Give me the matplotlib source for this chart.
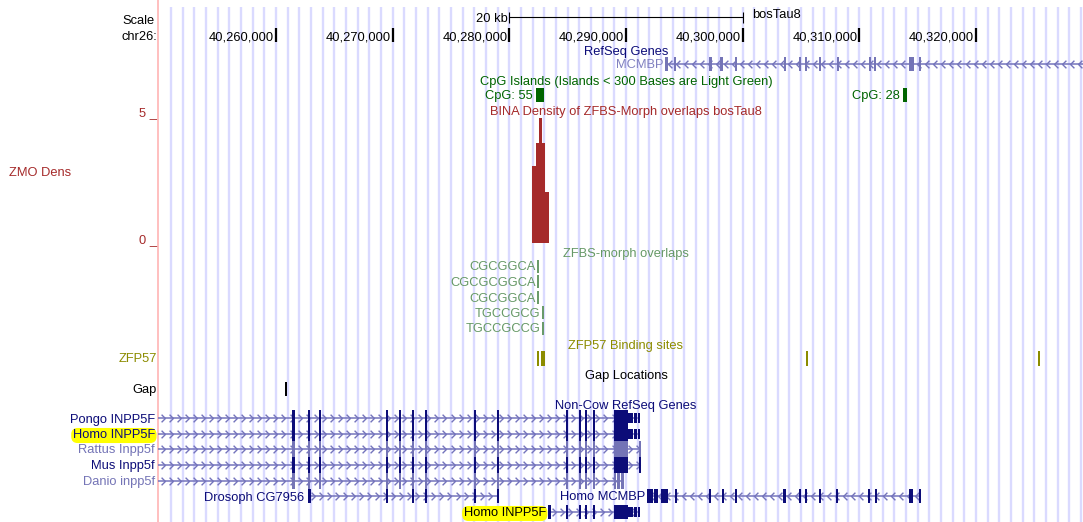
import matplotlib
matplotlib.use('Agg')
import matplotlib.pyplot as plt
from matplotlib.path import Path
import numpy as np

plt.rcParams['font.family'] = ['Liberation Sans', 'DejaVu Sans']

W, H = 1083, 522
# browser window: pixel 276 sits on 40,260,000, about 11.67 px per kb
BP_PER_PX = 85.714
ORIGIN = 40260000 - 276 * BP_PER_PX


def px(p):
    # pixel column -> genome coordinate (layout only)
    return ORIGIN + p * BP_PER_PX


VIEW_START = 40249890
VIEW_END = 40329170

# ---- data ----
position_ticks = [40260000, 40270000, 40280000, 40290000, 40300000, 40310000, 40320000]
scale_bar = [40280000, 40300000]

cpg_starts = [40282290, 40313740]
cpg_ends = [40282970, 40314090]
cpg_labels = ['CpG: 55', 'CpG: 28']

density_starts = [40281950, 40282250, 40282500, 40282800, 40283050]
density_ends = [40282250, 40282500, 40282800, 40283050, 40283400]
density_values = [2.95, 3.85, 4.8, 3.85, 1.95]

zfbs_labels = ['CGCGGCA', 'CGCGCGGCA', 'CGCGGCA', 'TGCCGCG', 'TGCCGCCG']
zfbs_pos = [40282460, 40282460, 40282460, 40282890, 40282890]

zfp57_starts = [40282400, 40282715, 40305470, 40325330]
zfp57_ends = [40282520, 40283030, 40305620, 40325480]

gap_starts = [40260810]
gap_ends = [40260900]

cow_mcmbp_exons = [(40293344, 40293601), (40294160, 40294260), (40297200, 40297330),
                   (40298150, 40298270), (40299380, 40299500), (40303570, 40303700),
                   (40304860, 40304980), (40305380, 40305500), (40306580, 40306700),
                   (40308090, 40308220), (40310860, 40310980), (40311300, 40311400),
                   (40314230, 40314690), (40315160, 40315240)]

inpp5f_exons = [(40261380, 40261580), (40262740, 40262940), (40263720, 40263820),
                (40269440, 40269620), (40270560, 40270720), (40271680, 40271820),
                (40272790, 40272950), (40277000, 40277130), (40278960, 40279120),
                (40284880, 40285010), (40285990, 40286130), (40286510, 40286640),
                (40287190, 40287330), (40288970, 40290170)]
inpp5f_utr = [(40290170, 40290560), (40290650, 40290900), (40290990, 40291200)]
rodent_end = [(40291140, 40291230)]
danio_tail = [(40289000, 40289120), (40289270, 40289400), (40289620, 40289780)]
drosoph_exons = [(40262740, 40262960), (40269440, 40269620), (40271680, 40271820),
                 (40272790, 40272950), (40277000, 40277130), (40278960, 40279120)]
homo_inpp5f2_exons = [(40283390, 40283480), (40284880, 40285010), (40285990, 40286130),
                      (40286510, 40286640), (40287190, 40287330), (40288970, 40290170)]
homo_mcmbp_exons = [(40291800, 40292320), (40292400, 40292750), (40293000, 40293600),
                    (40294250, 40294340), (40297150, 40297280), (40298260, 40298390),
                    (40299380, 40299500), (40303500, 40303630), (40304860, 40304980),
                    (40305380, 40305500), (40306580, 40306700), (40308030, 40308160),
                    (40310780, 40310900), (40311380, 40311480), (40314220, 40314640),
                    (40315160, 40315240)]

NAVY = '#0c0c78'
LIGHT = '#7474b6'
LINE = '#7474bc'
RED = '#a52a2a'
GREEN = '#006400'
SAGE = '#669966'
OLIVE = '#8c8c00'
FS = 9.25
TY = 1.5  # text baseline nudge in pixel rows
MIN_W = 2.6 * BP_PER_PX  # exons are drawn at least ~2.6 px wide

fig = plt.figure(figsize=(W / 100, H / 100), dpi=100)
ax = fig.add_axes([0, 0, 1, 1])
ax.set_xlim(px(0), px(W))
ax.set_ylim(H, 0)
ax.axis('off')


def txt(x, y, s, ha='center', color='black', **kw):
    return ax.text(x, y + TY, s, ha=ha, va='center', fontsize=FS, color=color, **kw)


# blue guide lines every kb and the red left border
guides = np.arange(40251000, VIEW_END, 1000)
ax.vlines(guides, 7, H, color='#dadaff', lw=1.7, zorder=0)
ax.axvline(px(158), color='#ffb4b4', lw=1.2, zorder=0)

# ---- scale and position ruler ----
txt(px(155), 19, 'Scale', ha='right')
txt(px(157), 36, 'chr26:', ha='right')
ax.hlines(17, scale_bar[0], scale_bar[1], color='black', lw=0.8)
ax.vlines(scale_bar, 12, 23, color='black', lw=0.8)
txt(scale_bar[0] - 2 * BP_PER_PX, 17, '%d kb' % ((scale_bar[1] - scale_bar[0]) // 1000),
    ha='right')
txt(scale_bar[1] + 9 * BP_PER_PX, 14, 'bosTau8', ha='left')
for t in position_ticks:
    ax.vlines(t, 28, 42, color='black', lw=1.6)
    txt(t - 2 * BP_PER_PX, 36, '{:,}'.format(t), ha='right')

CENTER = px(626)


def blocks(exons):
    out = []
    for s, e in exons:
        w = max(e - s, MIN_W)
        out.append(((s + e) / 2 - w / 2, w))
    return out


def draw_gene(y, start, end, exons, ecolor, strand='+', h=14, thin=None):
    ax.hlines(y, start, end, color=LINE, lw=1.1, zorder=2)
    xs = np.arange(start + 400, end - 200, 690)
    if strand == '+':
        verts = [(-0.5, 1), (0.5, 0), (-0.5, -1)]
    else:
        verts = [(0.5, 1), (-0.5, 0), (0.5, -1)]
    chev = Path(verts, [Path.MOVETO, Path.LINETO, Path.LINETO])
    ax.plot(xs, np.full(len(xs), y), ls='none', marker=chev, ms=5.5, mfc='none',
            mec=LINE, mew=1.0, zorder=2)
    ax.broken_barh(blocks(exons), (y - h / 2, h), facecolors=ecolor, zorder=3)
    if thin:
        ax.broken_barh([(s, e - s) for s, e in thin], (y - 5, 10),
                       facecolors=ecolor, zorder=3)


# ---- RefSeq Genes ----
txt(CENTER, 51, 'RefSeq Genes', color=NAVY)
draw_gene(64, cow_mcmbp_exons[0][0], VIEW_END, cow_mcmbp_exons, LIGHT, strand='-', h=14)
txt(cow_mcmbp_exons[0][0] - 2 * BP_PER_PX, 64, 'MCMBP', ha='right', color='#8080c0')

# ---- CpG islands ----
txt(CENTER, 81, 'CpG Islands (Islands < 300 Bases are Light Green)', color=GREEN)
ax.broken_barh([(s, e - s) for s, e in zip(cpg_starts, cpg_ends)], (88, 14),
               facecolors=GREEN, zorder=3)
for s, lab in zip(cpg_starts, cpg_labels):
    txt(s - 3 * BP_PER_PX, 95, lab, ha='right', color=GREEN)

# ---- BINA density ----
txt(CENTER, 111, 'BINA Density of ZFBS-Morph overlaps bosTau8', color=RED)
txt(px(157), 112, '5 _', ha='right', color=RED)
txt(px(157), 239, '0 _', ha='right', color=RED)
txt(px(9), 171, 'ZMO Dens', ha='left', color=RED)

dax = fig.add_axes([0, (H - 243) / H, 1, 130 / H])
dax.set_xlim(px(0), px(W))
dax.set_ylim(0, 5)
dax.axis('off')
dax.patch.set_alpha(0)
dax.bar(density_starts, density_values,
        width=[e - s for s, e in zip(density_starts, density_ends)],
        align='edge', color=RED, lw=0)

# ---- ZFBS-morph overlaps ----
txt(CENTER, 253, 'ZFBS-morph overlaps', color=SAGE)
for i, (lab, p) in enumerate(zip(zfbs_labels, zfbs_pos)):
    y = 266 + i * 15.5
    ax.vlines(p, y - 6.5, y + 6.5, color=SAGE, lw=1.4)
    txt(p - 2.5 * BP_PER_PX, y, lab, ha='right', color=SAGE)

# ---- ZFP57 ----
txt(px(625), 344, 'ZFP57 Binding sites', color=OLIVE)
txt(px(157), 357, 'ZFP57', ha='right', color=OLIVE)
ax.broken_barh([(s, e - s) for s, e in zip(zfp57_starts, zfp57_ends)], (351, 15),
               facecolors=OLIVE, zorder=3)

# ---- Gap ----
txt(CENTER, 375, 'Gap Locations')
txt(px(157), 389, 'Gap', ha='right')
ax.broken_barh([(s, e - s) for s, e in zip(gap_starts, gap_ends)], (382, 14),
               facecolors='black', zorder=3)

# ---- Non-Cow RefSeq Genes ----
txt(CENTER, 404, 'Non-Cow RefSeq Genes', color=NAVY)
hl = dict(boxstyle='round,pad=0.12,rounding_size=0.5', fc='#ffff00', ec='none')

rows = [
    ('Pongo INPP5F', 418, NAVY, inpp5f_exons, inpp5f_utr, 40291200, False),
    ('Homo INPP5F', 434, NAVY, inpp5f_exons, inpp5f_utr, 40291200, True),
    ('Rattus Inpp5f', 449, LIGHT, inpp5f_exons + rodent_end, None, 40291230, False),
    ('Mus Inpp5f', 465, NAVY, inpp5f_exons + rodent_end, None, 40291230, False),
    ('Danio inpp5f', 481, LIGHT, inpp5f_exons[:-1] + danio_tail, None, 40289780, False),
]
for name, y, col, ex, utr, end, highlight in rows:
    draw_gene(y, VIEW_START, end, ex, col, h=16, thin=utr)
    txt(px(155), y, name, ha='right', color=col, bbox=hl if highlight else None)

draw_gene(496, drosoph_exons[0][0], drosoph_exons[-1][1], drosoph_exons, NAVY)
txt(drosoph_exons[0][0] - 4 * BP_PER_PX, 496, 'Drosoph CG7956', ha='right', color=NAVY)

draw_gene(496, homo_mcmbp_exons[0][0], homo_mcmbp_exons[-1][1], homo_mcmbp_exons, NAVY,
          strand='-')
txt(homo_mcmbp_exons[0][0] - 2 * BP_PER_PX, 496, 'Homo MCMBP', ha='right', color=NAVY)

draw_gene(512, homo_inpp5f2_exons[0][0], 40291200, homo_inpp5f2_exons, NAVY, thin=inpp5f_utr)
txt(homo_inpp5f2_exons[0][0] - 3 * BP_PER_PX, 512, 'Homo INPP5F', ha='right', bbox=hl)

fig.savefig('out.png', dpi=100, facecolor='white')
